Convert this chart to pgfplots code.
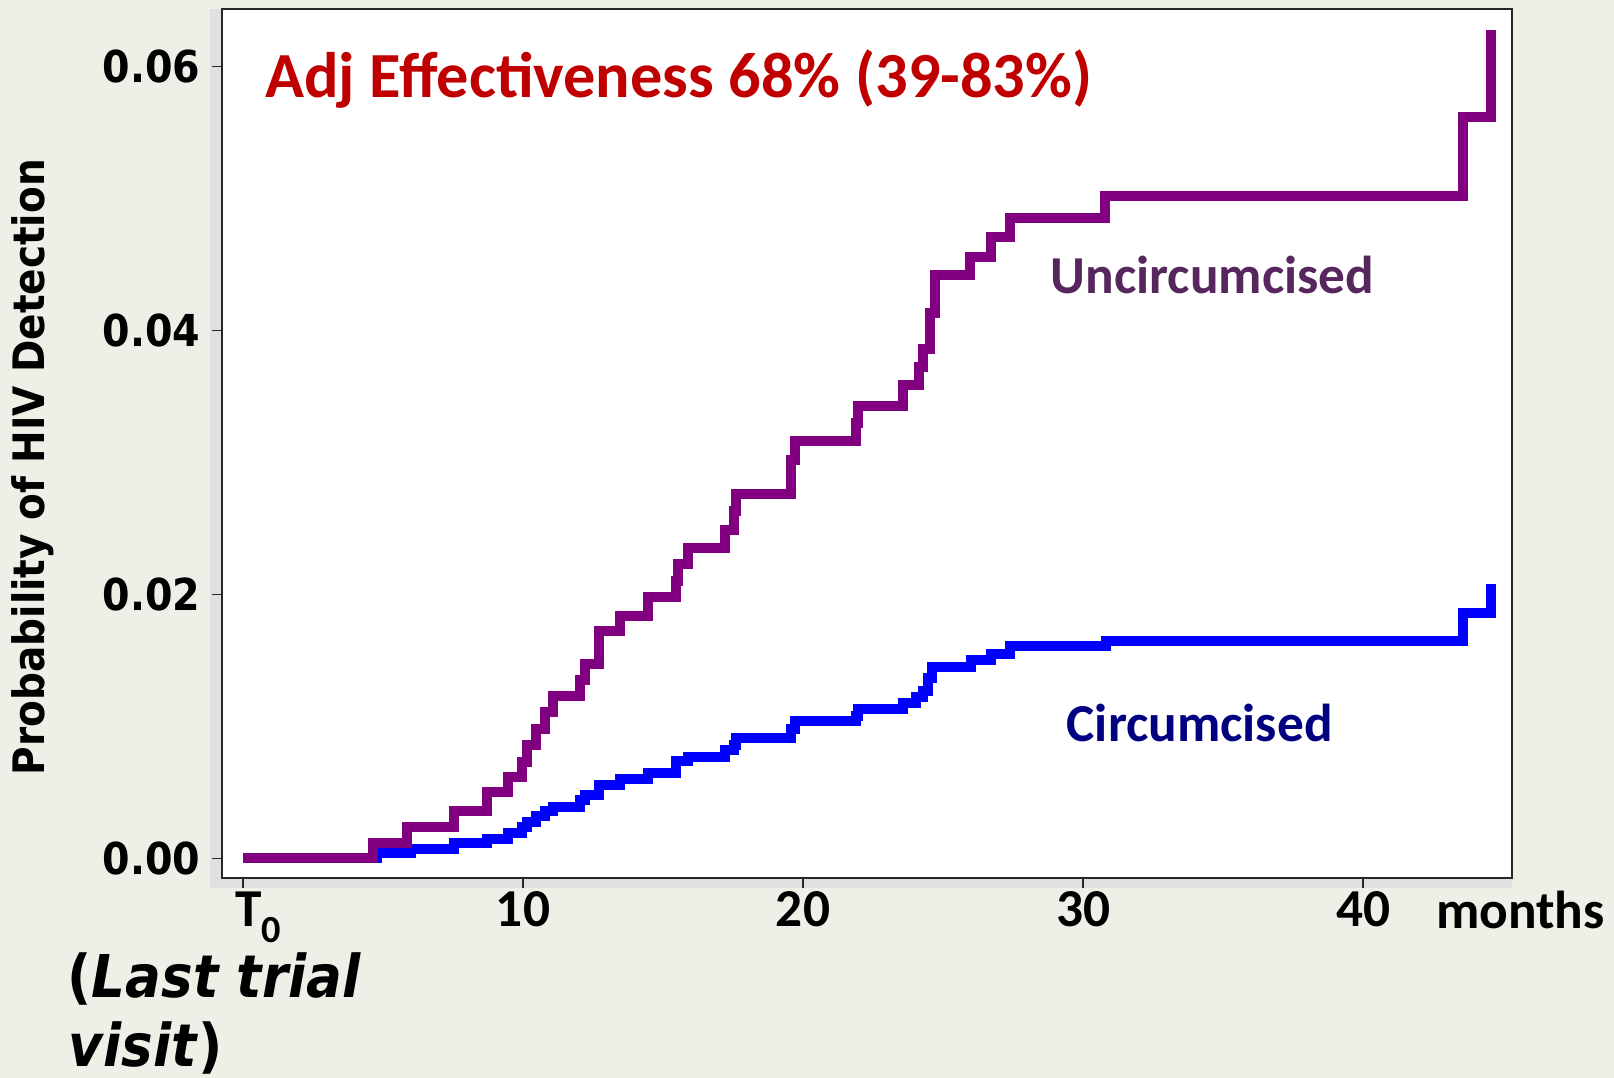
\documentclass[border=0pt]{standalone}
\usepackage{fontspec}
\setmainfont{Carlito}
\newfontfamily\djc{DejaVu Sans Condensed}
\usepackage{pgfplots}
\pgfplotsset{compat=1.18}

\definecolor{bgbeige}{RGB}{239,239,231}
\definecolor{stripgray}{RGB}{224,224,224}
\definecolor{uncirc}{RGB}{128,0,128}
\definecolor{circ}{RGB}{0,0,255}
\definecolor{titlered}{RGB}{192,0,0}
\definecolor{unctext}{RGB}{88,38,94}
\definecolor{circtext}{RGB}{0,0,128}

\begin{document}
\begin{tikzpicture}
% page background and the grey strip behind the frame
\fill[bgbeige] (-66.6pt,-60pt) rectangle (417.6pt,263.4pt);
\useasboundingbox (-66.6pt,-60pt) rectangle (417.6pt,263.4pt);
\fill[stripgray] (-3.6pt,-3pt) rectangle (387pt,260.7pt);

\begin{axis}[
    at={(0pt,0pt)}, anchor=south west,
    scale only axis,
    width=387pt, height=260.7pt,
    xmin=-0.75, xmax=45.32,
    ymin=-0.00148, ymax=0.06436,
    axis background/.style={fill=white},
    axis line style={black!85, line width=0.6pt},
    tick pos=left, tick align=outside,
    major tick length=3pt,
    tick style={black!85, line width=0.5pt},
    xtick={0,10,20,30,40},
    xticklabels={\hspace*{9pt}T\raisebox{-0.6ex}{\fontsize{11.5}{11.5}\selectfont 0},10,20,30,40},
    ytick={0,0.02,0.04,0.06},
    yticklabels={0.00,0.02,0.04,0.06},
    scaled y ticks=false,
    xticklabel style={font=\bfseries\fontsize{16}{16}\selectfont, inner sep=1pt},
    yticklabel style={font=\djc\bfseries\fontsize{13.2}{13.2}\selectfont},
]
% circumcised
\addplot[const plot mark left, color=circ, line width=3pt, line join=miter, no marks] coordinates {
    (0,0) (4.80,0.0004) (6.00,0.0007) (7.55,0.0012) (8.71,0.0015)
    (9.46,0.0019) (9.96,0.0024) (10.13,0.0028) (10.45,0.0032) (10.78,0.0036)
    (11.06,0.0039) (12.05,0.0044) (12.21,0.0048) (12.71,0.0056) (13.46,0.0060)
    (14.48,0.0065) (15.46,0.0074) (15.89,0.0077) (17.23,0.0082) (17.55,0.0086)
    (17.61,0.0091) (19.56,0.0098) (19.72,0.0104) (21.89,0.0108) (21.97,0.0113)
    (23.57,0.0118) (24.05,0.0122) (24.30,0.0127) (24.45,0.0137) (24.60,0.0145)
    (25.99,0.0150) (26.71,0.0155) (27.40,0.0161) (30.81,0.0165) (43.56,0.0186)
    (44.57,0.0208)
};
% uncircumcised
\addplot[const plot mark left, color=uncirc, line width=3pt, line join=miter, no marks] coordinates {
    (0,0) (4.63,0.0012) (5.87,0.0024) (7.55,0.0036) (8.71,0.0050)
    (9.46,0.0062) (9.96,0.0073) (10.13,0.0086) (10.45,0.0098) (10.78,0.0111)
    (11.06,0.0123) (12.05,0.0135) (12.21,0.0147) (12.71,0.0172) (13.46,0.0184)
    (14.48,0.0198) (15.46,0.0210) (15.54,0.0223) (15.89,0.0235) (17.23,0.0249)
    (17.55,0.0263) (17.61,0.0276) (19.56,0.0302) (19.72,0.0316) (21.89,0.0330)
    (21.97,0.0343) (23.57,0.0359) (24.15,0.0372) (24.30,0.0386) (24.55,0.0413)
    (24.72,0.0442) (25.98,0.0456) (26.73,0.0471) (27.39,0.0485) (30.80,0.0502)
    (43.56,0.0562) (44.57,0.0628)
};
\end{axis}

% texts
\node[anchor=base west, inner sep=0, text=titlered, font=\bfseries\fontsize{19.3}{19.3}\selectfont]
    at (12.75pt,234pt) {Adj Effectiveness 68\% (39-83\%)};
\node[anchor=base west, inner sep=0, text=unctext, font=\bfseries\fontsize{16}{16}\selectfont]
    at (248.4pt,175.2pt) {Uncircumcised};
\node[anchor=base west, inner sep=0, text=circtext, font=\bfseries\fontsize{16}{16}\selectfont]
    at (253.2pt,40.8pt) {Circumcised};
\node[rotate=90, inner sep=0, font=\djc\bfseries\fontsize{13}{13}\selectfont]
    at (-56.7pt,123.3pt) {Probability of HIV Detection};
\node[anchor=base west, inner sep=0, font=\bfseries\fontsize{16}{16}\selectfont]
    at (364pt,-15.3pt) {months};
\node[anchor=base west, inner sep=0, font=\djc\bfseries\fontsize{17.7}{17.7}\selectfont]
    at (-46.5pt,-36pt) {(\textit{Last trial}};
\node[anchor=base west, inner sep=0, font=\djc\bfseries\fontsize{17.7}{17.7}\selectfont]
    at (-46.2pt,-56.7pt) {\textit{visit})};
\end{tikzpicture}
\end{document}
